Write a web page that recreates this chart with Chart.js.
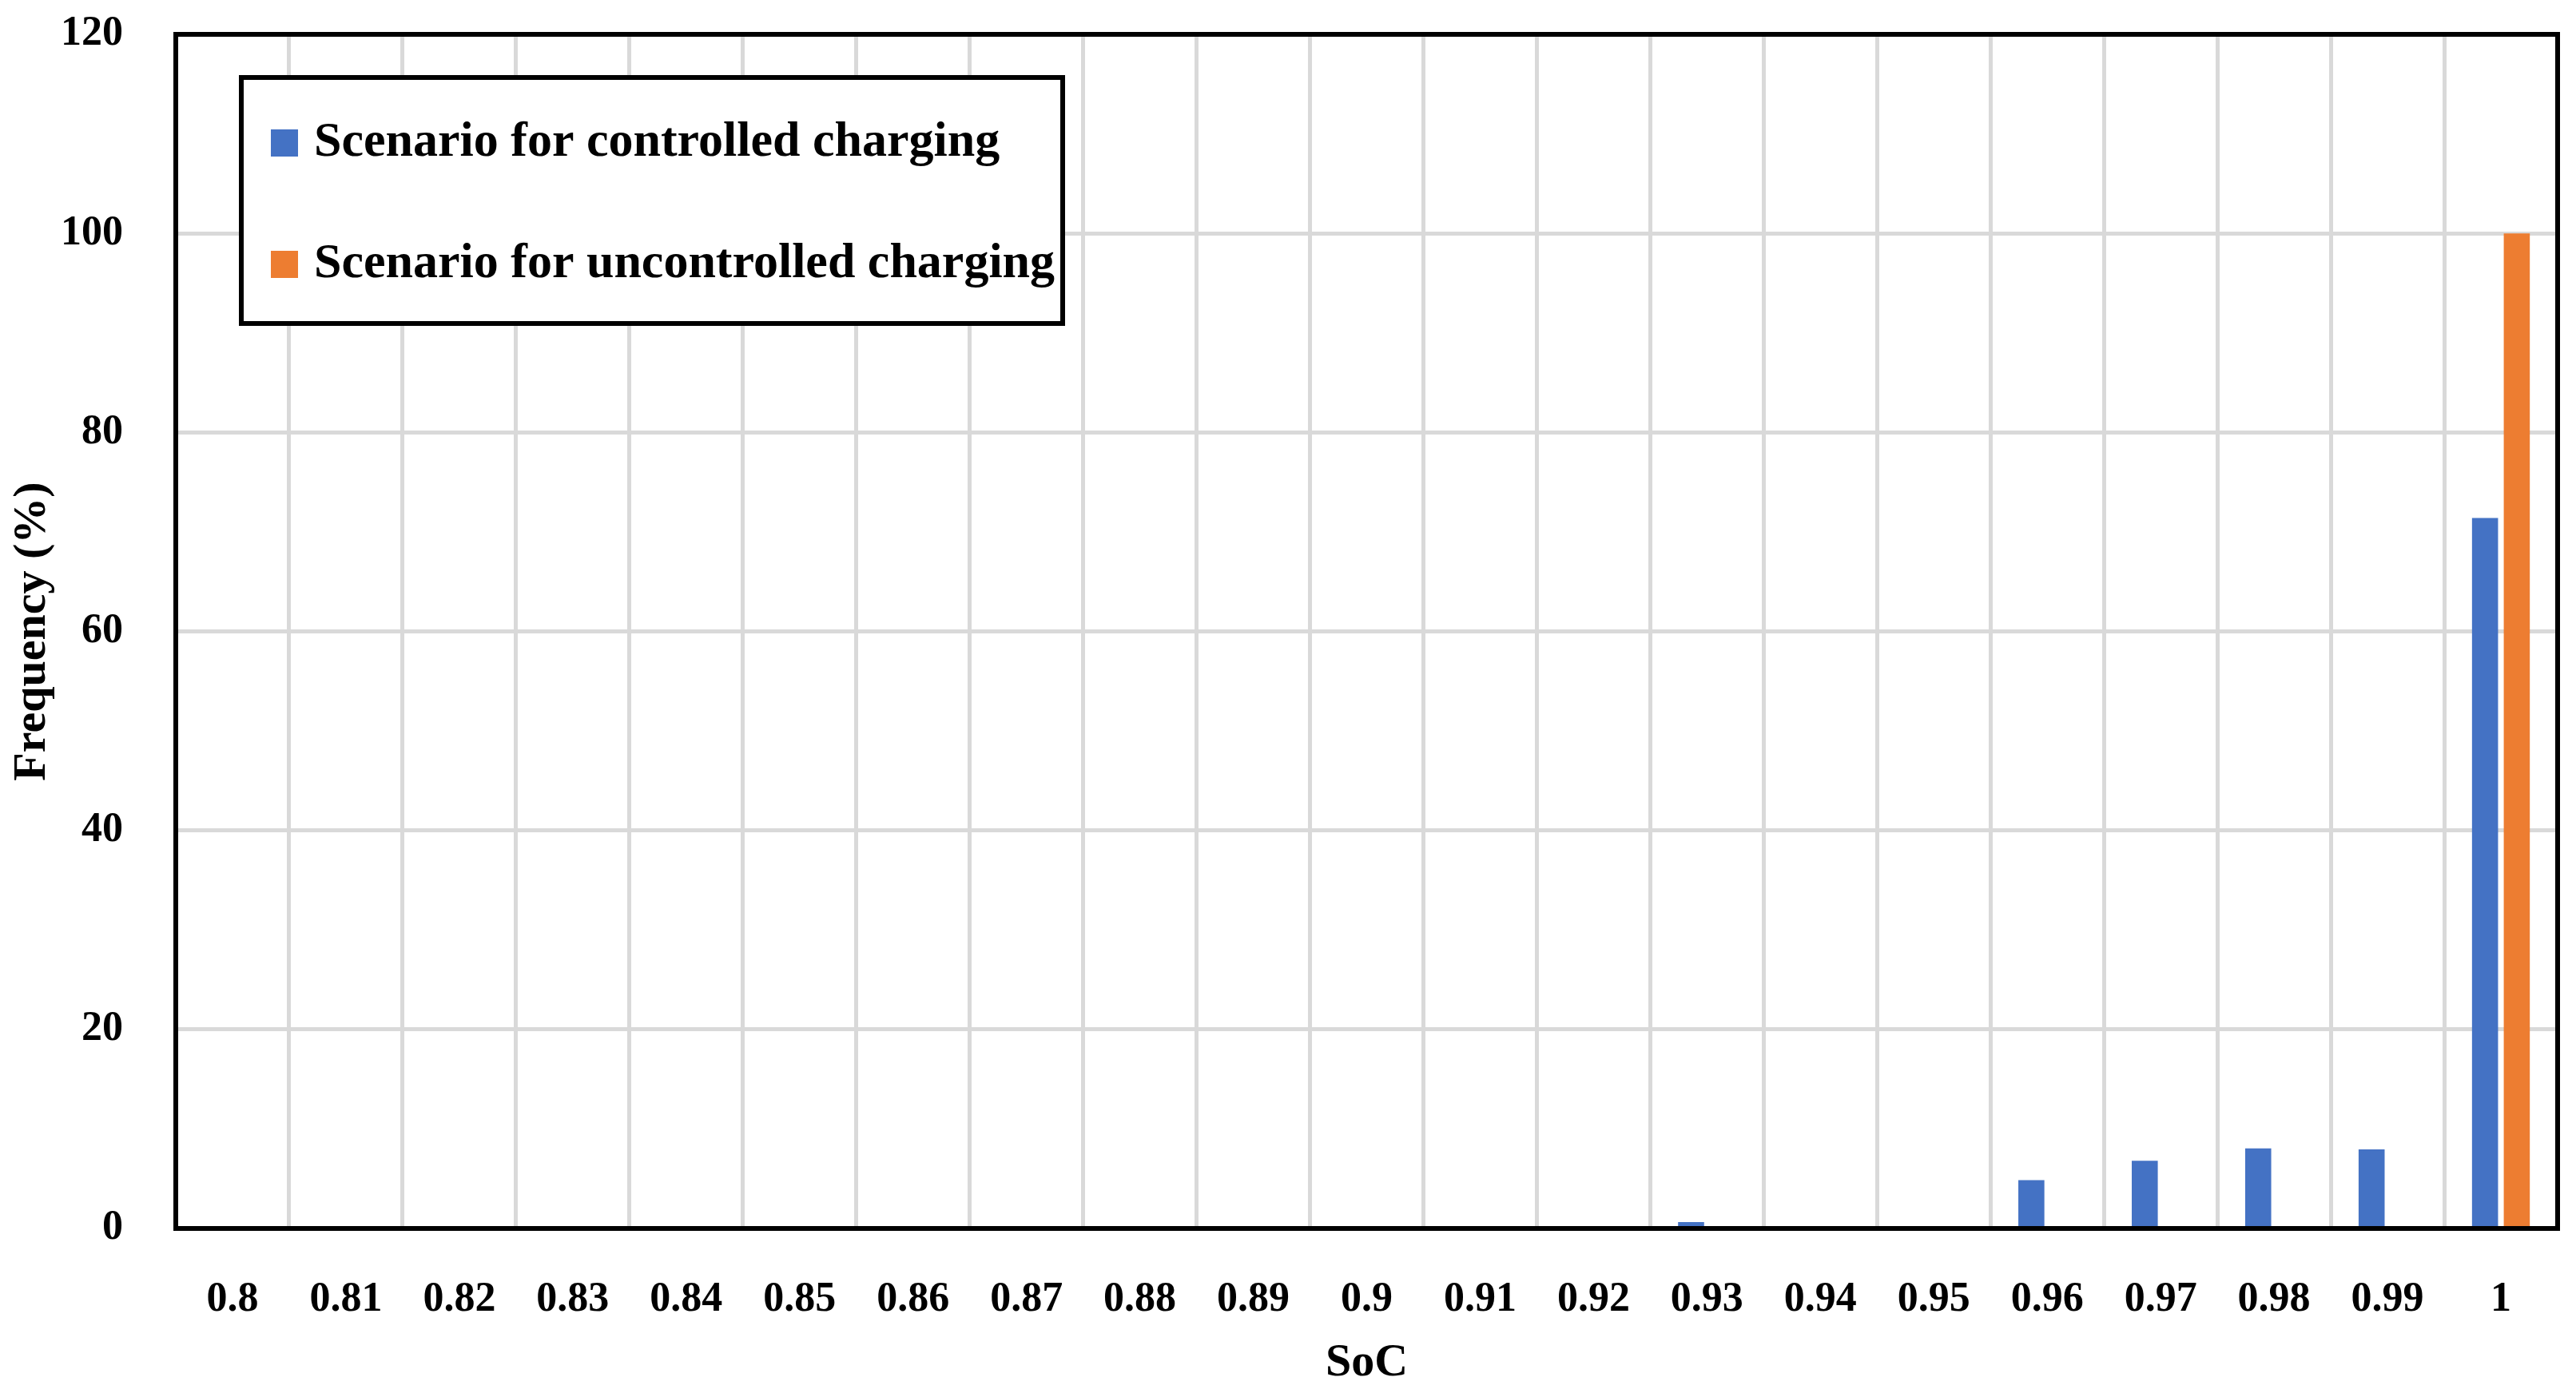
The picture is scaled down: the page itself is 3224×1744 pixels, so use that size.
<!DOCTYPE html>
<html>
<head>
<meta charset="utf-8">
<script src="https://cdn.jsdelivr.net/npm/chart.js@4.4.1/dist/chart.umd.min.js"></script>
<style>
    html, body { margin: 0; padding: 0; background: #ffffff; }
    #wrap { width: 3224px; height: 1744px; }
</style>
</head>
<body>
<div id="wrap"><canvas id="socChart" width="3224" height="1744"></canvas></div>
<script>
// SoC bins on the x axis
const socLabels = ['0.8', '0.81', '0.82', '0.83', '0.84', '0.85', '0.86', '0.87', '0.88', '0.89', '0.9',
    '0.91', '0.92', '0.93', '0.94', '0.95', '0.96', '0.97', '0.98', '0.99', '1'];

// Frequency (%) per bin
const controlledFreq = [0, 0, 0, 0, 0, 0, 0, 0, 0, 0, 0, 0, 0, 0.65, 0, 0, 4.85, 6.8, 8.05, 7.95, 71.4];
const uncontrolledFreq = [0, 0, 0, 0, 0, 0, 0, 0, 0, 0, 0, 0, 0, 0, 0, 0, 0, 0, 0, 0, 100];

const seriesNames = ['Scenario for controlled charging', 'Scenario for uncontrolled charging'];
const seriesColors = ['#4472C4', '#ED7D31'];

const yTicks = [0, 20, 40, 60, 80, 100, 120];

const serif = "'Liberation Serif', 'Times New Roman', serif";

// Black frame round the plot area
const frameBox = {
    id: 'frameBox',
    afterDatasetsDraw(chart) {
        const { ctx, chartArea } = chart;
        ctx.save();
        ctx.strokeStyle = '#000000';
        ctx.lineWidth = 6;
        ctx.strokeRect(chartArea.left, chartArea.top, chartArea.right - chartArea.left, chartArea.bottom - chartArea.top);
        ctx.restore();
    }
};

// Boxed legend in the upper left of the plot
const boxedLegend = {
    id: 'boxedLegend',
    afterDraw(chart) {
        const { ctx, chartArea } = chart;
        const x = chartArea.left + 82;
        const y = chartArea.top + 54;
        const w = 1028;
        const h = 308;
        ctx.save();
        ctx.fillStyle = '#ffffff';
        ctx.fillRect(x, y, w, h);
        ctx.strokeStyle = '#000000';
        ctx.lineWidth = 6;
        ctx.strokeRect(x, y, w, h);
        ctx.font = 'bold 62px ' + serif;
        ctx.textBaseline = 'middle';
        ctx.textAlign = 'left';
        chart.data.datasets.forEach((ds, i) => {
            const cy = y + 82 + i * 152;
            ctx.fillStyle = ds.backgroundColor;
            ctx.fillRect(x + 37, cy - 17, 34, 34);
            ctx.fillStyle = '#000000';
            ctx.fillText(ds.label, x + 91, cy);
        });
        ctx.restore();
    }
};

function buildChart() {
    const ctx = document.getElementById('socChart').getContext('2d');
    new Chart(ctx, {
        type: 'bar',
        data: {
            labels: socLabels,
            datasets: [
                { label: seriesNames[0], data: controlledFreq, backgroundColor: seriesColors[0] },
                { label: seriesNames[1], data: uncontrolledFreq, backgroundColor: seriesColors[1] }
            ]
        },
        options: {
            responsive: false,
            animation: false,
            devicePixelRatio: 1,
            categoryPercentage: 0.56,
            barPercentage: 0.82,
            layout: { padding: { top: 43, right: 23, left: 0, bottom: 0 } },
            plugins: {
                legend: { display: false },
                tooltip: { enabled: false }
            },
            scales: {
                x: {
                    grid: { color: '#D9D9D9', lineWidth: 5, drawTicks: false, offset: true },
                    border: { display: false },
                    ticks: { color: '#000000', font: { family: serif, size: 52, weight: 'bold' }, padding: 58, maxRotation: 0, autoSkip: false },
                    title: { display: true, text: 'SoC', color: '#000000', font: { family: serif, size: 58, weight: 'bold' }, padding: { top: 0, bottom: 2 } },
                    afterFit: scale => {
                        scale.height = 206;
                        scale.paddingLeft = 0;
                        scale.paddingRight = 0;
                    }
                },
                y: {
                    min: 0,
                    max: 120,
                    afterBuildTicks: scale => { scale.ticks = yTicks.map(v => ({ value: v })); },
                    grid: { color: '#D9D9D9', lineWidth: 5, drawTicks: false },
                    border: { display: false },
                    ticks: { color: '#000000', font: { family: serif, size: 52, weight: 'bold' }, padding: 66 },
                    title: { display: true, text: 'Frequency (%)', color: '#000000', font: { family: serif, size: 58, weight: 'bold' }, padding: { top: 6, bottom: 0 } },
                    afterFit: scale => {
                        scale.width = 220;
                        scale.paddingTop = 0;
                        scale.paddingBottom = 0;
                    }
                }
            }
        },
        plugins: [frameBox, boxedLegend]
    });
}

buildChart();
</script>
</body>
</html>
